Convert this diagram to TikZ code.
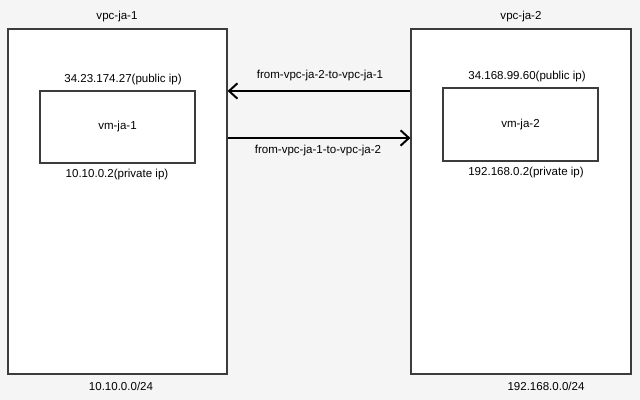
\documentclass[tikz,border=0pt]{standalone}
\usepackage{fontspec}
\setmainfont{Liberation Sans}
\usetikzlibrary{arrows.meta}
\definecolor{bggray}{HTML}{F5F5F5}
\definecolor{edgegray}{HTML}{3C3C3C}
\tikzset{
  vpcbox/.style={draw=edgegray, fill=white, line width=0.8pt, minimum width=5.475cm, minimum height=8.625cm, inner sep=0pt},
  vmbox/.style={draw=edgegray, fill=white, line width=0.8pt, minimum width=3.875cm, minimum height=1.8cm, inner sep=0pt},
  lbl/.style={font=\fontsize{8.2}{9}\selectfont, inner sep=0pt}
}
\begin{document}
\begin{tikzpicture}[x=0.025cm, y=-0.025cm, >={Straight Barb[length=6pt,width=11pt,line width=1.4pt]}]
      \fill[bggray] (0,0) rectangle (640,400);
      \useasboundingbox (0,0) rectangle (640,400);
      % vpc boxes
      \node[vpcbox] (vpcA) at (117.5,201.5) {};
      \node[vpcbox, minimum width=5.5cm] (vpcB) at (521,201.5) {};
      \node[lbl] (vpcAname) at (117,17) {vpc-ja-1};
      \node[lbl] (vpcBname) at (521,17) {vpc-ja-2};
      \node[lbl] (vpcAcidr) at (121,386) {10.10.0.0/24};
      \node[lbl] (vpcBcidr) at (546,386) {192.168.0.0/24};
      % vms
      \node[vmbox] (vmA) at (117.5,127) {};
      \node[vmbox, minimum height=1.825cm] (vmB) at (520.5,124.5) {};
      \node[lbl] at (vmA) {vm-ja-1};
      \node[lbl] at (vmB) {vm-ja-2};
      \node[lbl] (pubA) at (123,80) {34.23.174.27(public ip)};
      \node[lbl] (privA) at (117,175) {10.10.0.2(private ip)};
      \node[lbl] (pubB) at (527,77) {34.168.99.60(public ip)};
      \node[lbl] (privB) at (526,173) {192.168.0.2(private ip)};
      % routes
      \draw[->, line width=1.4pt] (vpcB.west |- 0,91) -- (vpcA.east |- 0,91);
      \draw[->, line width=1.4pt] (vpcA.east |- 0,138) -- (vpcB.west |- 0,138);
      \node[lbl] (routeBA) at (320,76) {from-vpc-ja-2-to-vpc-ja-1};
      \node[lbl] (routeAB) at (318,151) {from-vpc-ja-1-to-vpc-ja-2};
\end{tikzpicture}
\end{document}
